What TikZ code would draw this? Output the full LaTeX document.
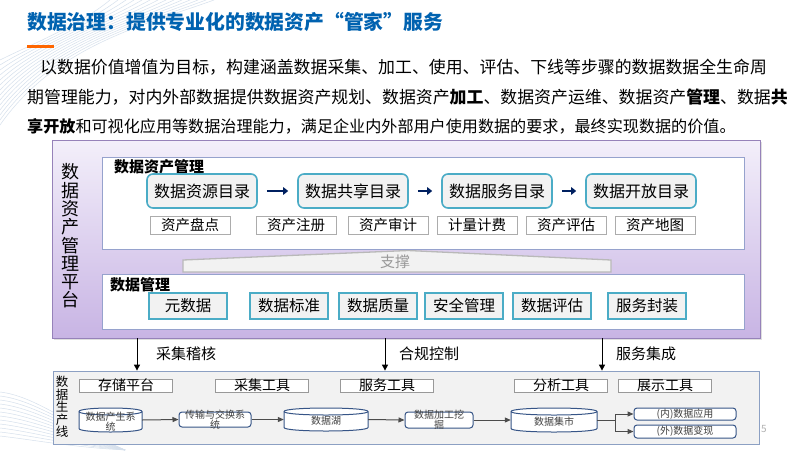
\documentclass[tikz,border=0pt]{standalone}
\usepackage{fontspec}
\setmainfont{Noto Sans CJK SC}
\usetikzlibrary{arrows.meta,shadows}
\definecolor{titleblue}{RGB}{0,98,176}
\definecolor{orangebar}{RGB}{255,102,0}
\definecolor{tealb}{RGB}{75,172,198}
\definecolor{navyb}{RGB}{0,32,96}
\definecolor{platborder}{RGB}{150,130,185}
\definecolor{plattop}{RGB}{243,239,250}
\definecolor{platbot}{RGB}{200,180,228}
\definecolor{boxborder}{RGB}{150,162,205}
\definecolor{prodborder}{RGB}{140,160,195}
\definecolor{flowblue}{RGB}{55,85,135}
\definecolor{lightfill}{RGB}{242,242,242}
\definecolor{decoc}{RGB}{214,224,236}
% cylinder drawn round a named node: name, cx, cy, width, height, text
\newcommand{\mycylinder}[6]{%
  \pgfmathsetmacro{\cylxa}{#2-#4/2}%
  \pgfmathsetmacro{\cylxb}{#2+#4/2}%
  \pgfmathsetmacro{\cylya}{#3-#5/2+3.5}%
  \pgfmathsetmacro{\cylyb}{#3+#5/2-3.5}%
  \pgfmathsetmacro{\cylea}{\cylya-4.67}%
  \pgfmathsetmacro{\cyleb}{\cylya+4.67}%
  \pgfmathsetmacro{\cylec}{\cylyb+4.67}%
  \node[inner sep=0pt,minimum width=#4pt,minimum height=#5pt] (#1) at (#2,#3) {};
  \draw[cylline,fill=white] (\cylxa,\cylya) .. controls (\cylxa,\cylea) and (\cylxb,\cylea) .. (\cylxb,\cylya) -- (\cylxb,\cylyb) .. controls (\cylxb,\cylec) and (\cylxa,\cylec) .. (\cylxa,\cylyb) -- cycle;
  \draw[cylline] (\cylxa,\cylya) .. controls (\cylxa,\cyleb) and (\cylxb,\cyleb) .. (\cylxb,\cylya);
  \node[flowtext] at ([yshift=-1.5pt]#1.center) {#6};
}
\begin{document}
\begin{tikzpicture}[x=1pt,y=-1pt,
  para/.style={anchor=west,inner sep=0pt,font=\fontsize{16.9}{18}\selectfont},
  platform/.style={draw=platborder,line width=0.8pt,top color=plattop,bottom color=platbot,minimum width=708pt,minimum height=198pt,inner sep=0pt,drop shadow={opacity=0.25,shadow xshift=2pt,shadow yshift=-2pt}},
  whitebox/.style={draw=boxborder,line width=0.8pt,fill=white,inner sep=0pt},
  catbox/.style={draw=tealb,line width=1.6pt,fill=lightfill,rounded corners=6pt,minimum width=110pt,minimum height=34pt,inner sep=0pt,font=\fontsize{16}{18}\selectfont},
  smbox/.style={draw=gray!65,line width=0.8pt,fill=white,minimum width=80pt,minimum height=18pt,inner sep=0pt,font=\fontsize{14.5}{16}\selectfont},
  dmbox/.style={draw=tealb,line width=1.8pt,fill=lightfill,minimum width=78pt,minimum height=26pt,inner sep=0pt,font=\fontsize{15.5}{17}\selectfont},
  navyarrow/.style={draw=navyb,line width=2.6pt,-{Triangle[length=5pt,width=7.5pt]},shorten <=9pt,shorten >=9pt},
  downarrow/.style={draw=black,line width=1pt,-{Triangle[length=6pt,width=6pt]}},
  tool/.style={draw=gray!80,line width=0.7pt,fill=white,minimum width=93pt,minimum height=13pt,inner sep=0pt,text height=10.5pt,text depth=1.5pt,font=\fontsize{14}{14}\selectfont},
  cylline/.style={draw=flowblue,line width=1pt},
  flowrect/.style={draw=flowblue,line width=1pt,fill=white,rounded corners=3pt,inner sep=0pt},
  flowtext/.style={inner sep=0pt,align=center,text=black!75,font=\fontsize{10}{9.8}\selectfont},
  flowarrow/.style={draw=black!70,line width=1pt,-{Triangle[length=6pt,width=5pt]}},
  deco/.style={draw=decoc,line width=0.5pt}
]
\useasboundingbox (0,0) rectangle (800,450);
\fill[white] (0,0) rectangle (800,450);
% faint decorative background lines
\foreach \i in {0,...,13} {
  \draw[deco] (110+\i*8,0) .. controls (80+\i*5,25) and (30+\i*2,45) .. (0,60+\i*5);
}
\foreach \i in {0,...,11} {
  \draw[deco] (0,392+\i*4) .. controls (35,396+\i*4) and (70,425+\i*2) .. (125,450);
}
% title
\node[anchor=west,inner sep=0pt,text=titleblue,font=\fontsize{19.8}{22}\selectfont\bfseries] (title) at (27,22) {数据治理：提供专业化的数据资产“管家”服务};
\fill[orangebar] (27,44.5) rectangle (54,48);
% paragraph
\node[para] (p1) at (40,67) {以数据价值增值为目标，构建涵盖数据采集、加工、使用、评估、下线等步骤的数据数据全生命周};
\node[para] (p2) at (27,97) {期管理能力，对内外部数据提供数据资产规划、数据资产\textbf{加工}、数据资产运维、数据资产\textbf{管理}、数据\textbf{共}};
\node[para,font=\fontsize{16.1}{18}\selectfont] (p3) at (27,126) {\textbf{享开放}和可视化应用等数据治理能力，满足企业内外部用户使用数据的要求，最终实现数据的价值。};
% platform
\node[platform] (plat) at (406,239) {};
\node[inner sep=0pt,align=center,font=\fontsize{18}{18.3}\selectfont] (platlabel) at (70,236) {数\\据\\资\\产\\管\\理\\平\\台};
% support shape
\draw[fill=lightfill,draw=gray!55,line width=1.3pt] (183,260) -- (408,250.5) -- (611,260) -- (611,272) -- (183,272) -- cycle;
\node[inner sep=0pt,text=gray!80,font=\fontsize{15}{16}\selectfont] (support) at (395,262) {支撑};
% asset management box
\node[whitebox,minimum width=642pt,minimum height=92pt] (amgmt) at (423,203) {};
\node[anchor=west,inner sep=0pt,font=\fontsize{15}{16}\selectfont\bfseries] (amlabel) at (114,167) {数据资产管理};
\node[catbox] (cat1) at (202,191) {数据资源目录};
\node[catbox] (cat2) at (353,191) {数据共享目录};
\node[catbox] (cat3) at (497,191) {数据服务目录};
\node[catbox] (cat4) at (641,191) {数据开放目录};
\draw[navyarrow] (cat1.east) -- (cat2.west);
\draw[navyarrow] (cat2.east) -- (cat3.west);
\draw[navyarrow] (cat3.east) -- (cat4.west);
\node[smbox] (sm1) at (190,225) {资产盘点};
\node[smbox] (sm2) at (296,225) {资产注册};
\node[smbox] (sm3) at (388,225) {资产审计};
\node[smbox] (sm4) at (477,225) {计量计费};
\node[smbox] (sm5) at (566,225) {资产评估};
\node[smbox] (sm6) at (655,225) {资产地图};
% data management box
\node[whitebox,minimum width=642pt,minimum height=55pt] (dmgmt) at (423,301.5) {};
\node[anchor=west,inner sep=0pt,font=\fontsize{15}{16}\selectfont\bfseries] (dmlabel) at (110,285) {数据管理};
\node[dmbox] (dm1) at (188,306) {元数据};
\node[dmbox] (dm2) at (289,306) {数据标准};
\node[dmbox] (dm3) at (378,306) {数据质量};
\node[dmbox] (dm4) at (464,306) {安全管理};
\node[dmbox] (dm5) at (552,306) {数据评估};
\node[dmbox] (dm6) at (647,306) {服务封装};
% production line box
\node[draw=prodborder,line width=0.8pt,fill=lightfill,minimum width=706pt,minimum height=73pt,inner sep=0pt] (prod) at (406,407.5) {};
\node[inner sep=0pt,align=center,font=\fontsize{12.5}{12.5}\selectfont] (prodlabel) at (62,407) {数\\据\\生\\产\\线};
% down arrows
\draw[downarrow] (137,0 |- plat.south) -- (137,0 |- prod.north);
\draw[downarrow] (385,0 |- plat.south) -- (385,0 |- prod.north);
\draw[downarrow] (602,0 |- plat.south) -- (602,0 |- prod.north);
\node[anchor=west,inner sep=0pt,font=\fontsize{15}{16}\selectfont] (lab1) at (156,354) {采集稽核};
\node[anchor=west,inner sep=0pt,font=\fontsize{15}{16}\selectfont] (lab2) at (399,354) {合规控制};
\node[anchor=west,inner sep=0pt,font=\fontsize{15}{16}\selectfont] (lab3) at (616,354) {服务集成};
% tools
\node[tool] (t1) at (126,386) {存储平台};
\node[tool] (t2) at (262,386) {采集工具};
\node[tool] (t3) at (387,386) {服务工具};
\node[tool] (t4) at (561,386) {分析工具};
\node[tool] (t5) at (665,386) {展示工具};
% flow
\mycylinder{f1}{110.5}{420}{63}{24}{数据产生系\\统}
\node[flowrect,minimum width=72pt,minimum height=15pt] (f2) at (215,419.5) {};
\node[flowtext] at (f2.center) {传输与交换系\\统};
\mycylinder{f3}{326}{419.5}{84}{23}{数据湖}
\node[flowrect,minimum width=68pt,minimum height=16pt] (f4) at (439,420) {};
\node[flowtext] at (f4.center) {数据加工挖\\掘};
\mycylinder{f5}{554}{420}{86}{24}{数据集市}
\node[flowrect,minimum width=102pt,minimum height=12pt] (f6) at (685,414) {};
\node[flowtext] at (f6.center) {(内)数据应用};
\node[flowrect,minimum width=102pt,minimum height=13pt] (f7) at (685,431.5) {};
\node[flowtext] at (f7.center) {(外)数据变现};
\draw[flowarrow] (f1.east) -- (f2.west);
\draw[flowarrow] (f2.east) -- (f3.west);
\draw[flowarrow] (f3.east) -- (f4.west);
\draw[flowarrow] (f4.east) -- (f5.west);
\coordinate (br) at (615,420);
\draw[draw=black!70,line width=1pt] (f5.east) -- (br);
\draw[flowarrow] (br) |- (f6.west);
\draw[flowarrow] (br) |- (f7.west);
% page number
\node[inner sep=0pt,text=gray!60,font=\fontsize{10}{10}\selectfont] (pagenum) at (764,429) {5};
\end{tikzpicture}
\end{document}
